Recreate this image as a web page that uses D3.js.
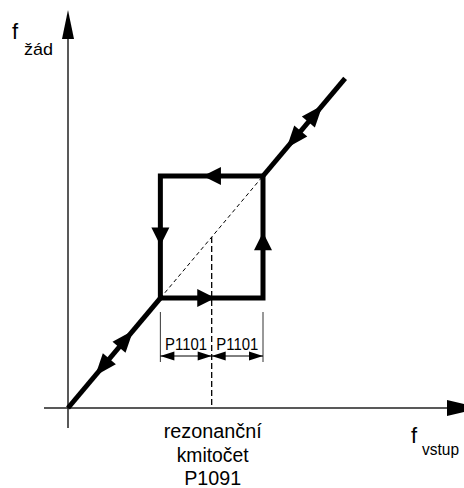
<!DOCTYPE html>
<html>
<head>
<meta charset="utf-8">
<script src="https://cdn.jsdelivr.net/npm/d3@7"></script>
<style>
html,body{margin:0;padding:0;background:#fff;}
svg{display:block;}
text{font-family:"Liberation Sans",Arial,sans-serif;fill:#000;}
</style>
</head>
<body>
<svg id="c" width="464" height="488"></svg>
<script>
// ---- data (chart units) ----
const fRes = 28;          // rezonanční kmitočet P1091
const p1101 = 10;         // šířka pásma P1101
const fMax = 54;          // konec charakteristiky
const lowerLine = [[0, 0], [fRes - p1101, fRes - p1101]];
const loopPts = [[fRes - p1101, fRes - p1101], [fRes + p1101, fRes - p1101], [fRes + p1101, fRes + p1101], [fRes - p1101, fRes + p1101], [fRes - p1101, fRes - p1101]];
const upperLine = [[fRes + p1101, fRes + p1101], [fMax, fMax]];
// arrow tips [x, y, dirX, dirY]
const lineArrows = [[12.7, 12.7, 1, 1], [5.3, 5.3, -1, -1], [49.6, 49.6, 1, 1], [42.6, 42.6, -1, -1]];
const loopArrows = [[26.3, 38, -1, 0], [28.7, 18, 1, 0], [18, 26.6, 0, -1], [38, 28.8, 0, 1]];
const dimLabels = ["P1101", "P1101"];
const bottomLabels = ["rezonanční", "kmitočet", "P1091"];

const svg = d3.select("#c");
const x = d3.scaleLinear().domain([0, fRes + p1101]).range([68, 263]);
const y = d3.scaleLinear().domain([0, fRes + p1101]).range([408, 176]);
const line = d3.line().x(d => x(d[0])).y(d => y(d[1]));

function arrowHead(tx, ty, dx, dy, len, hw) {
  const n = Math.hypot(dx, dy); dx /= n; dy /= n;
  const bx = tx - dx * len, by = ty - dy * len;
  const px = -dy, py = dx;
  return `M${tx},${ty}L${bx + px * hw},${by + py * hw}L${bx - px * hw},${by - py * hw}Z`;
}

// axes
const ax = svg.append("g");
ax.append("line").attr("x1", 44).attr("y1", y(0)).attr("x2", 450).attr("y2", y(0))
  .attr("stroke", "#222").attr("stroke-width", 1.5);
ax.append("line").attr("x1", x(0)).attr("y1", 428).attr("x2", x(0)).attr("y2", 30)
  .attr("stroke", "#222").attr("stroke-width", 1.5);
ax.append("path").attr("d", arrowHead(480, y(0), 1, 0, 33, 8)).attr("fill", "#000");
ax.append("path").attr("d", arrowHead(x(0), 10, 0, -1, 29, 6)).attr("fill", "#000");

// axis labels
svg.append("text").attr("x", 12).attr("y", 39).attr("font-size", 22).text("f");
svg.append("text").attr("x", 24).attr("y", 55).attr("font-size", 17)
  .attr("textLength", 29).attr("lengthAdjust", "spacingAndGlyphs").text("žád");
svg.append("text").attr("x", 411).attr("y", 443).attr("font-size", 22).text("f");
svg.append("text").attr("x", 422).attr("y", 455).attr("font-size", 17)
  .attr("textLength", 37).attr("lengthAdjust", "spacingAndGlyphs").text("vstup");

// dashed guides
svg.append("path").attr("d", line([[fRes - p1101, fRes - p1101], [fRes + p1101, fRes + p1101]]))
  .attr("stroke", "#000").attr("stroke-width", 1).attr("stroke-dasharray", "4,3").attr("fill", "none");
svg.append("path").attr("d", line([[fRes, fRes], [fRes, 0]]))
  .attr("stroke", "#000").attr("stroke-width", 1.3).attr("stroke-dasharray", "6,3").attr("fill", "none");

// thick characteristic
const thick = svg.append("g").attr("fill", "none").attr("stroke", "#000").attr("stroke-width", 5)
  .attr("stroke-linejoin", "miter").attr("stroke-linecap", "butt");
thick.append("path").attr("d", line(lowerLine));
thick.append("path").attr("d", line(upperLine));
thick.append("path").attr("d", line(loopPts) + "Z").attr("stroke-linecap", "square");

// arrows on characteristic
svg.selectAll(".la").data(lineArrows).join("path")
  .attr("d", d => arrowHead(x(d[0]), y(d[1]), x(d[0] + d[2]) - x(d[0]), y(d[1] + d[3]) - y(d[1]), 22, 8.5))
  .attr("fill", "#000");
svg.selectAll(".lo").data(loopArrows).join("path")
  .attr("d", d => arrowHead(x(d[0]), y(d[1]), x(d[0] + d[2]) - x(d[0]), y(d[1] + d[3]) - y(d[1]), 18, 9))
  .attr("fill", "#000");

// dimension lines
const dim = svg.append("g");
const xs = [fRes - p1101, fRes, fRes + p1101];
[xs[0], xs[2]].forEach(v => {
  dim.append("line").attr("x1", x(v)).attr("x2", x(v)).attr("y1", 312).attr("y2", 362)
    .attr("stroke", "#333").attr("stroke-width", 1);
});
dim.append("line").attr("x1", x(xs[0])).attr("x2", x(xs[2])).attr("y1", 356).attr("y2", 356)
  .attr("stroke", "#000").attr("stroke-width", 1);
[[xs[0], -1], [xs[1], 1], [xs[1], -1], [xs[2], 1]].forEach(([v, d]) => {
  dim.append("path").attr("d", arrowHead(x(v), 356, d, 0, 14, 4.5)).attr("fill", "#000");
});
dimLabels.forEach((t, i) => {
  dim.append("text").attr("x", (x(xs[i]) + x(xs[i + 1])) / 2).attr("y", 350)
    .attr("text-anchor", "middle").attr("font-size", 16.5)
    .attr("textLength", 42).attr("lengthAdjust", "spacingAndGlyphs").text(t);
});

// bottom label
const bLen = [98, 72, 57];
svg.selectAll(".bl").data(bottomLabels).join("text")
  .attr("x", x(fRes) + 1).attr("y", (d, i) => 438 + i * 23.5)
  .attr("text-anchor", "middle").attr("font-size", 20)
  .attr("textLength", (d, i) => bLen[i]).attr("lengthAdjust", "spacingAndGlyphs").text(d => d);
</script>
</body>
</html>
